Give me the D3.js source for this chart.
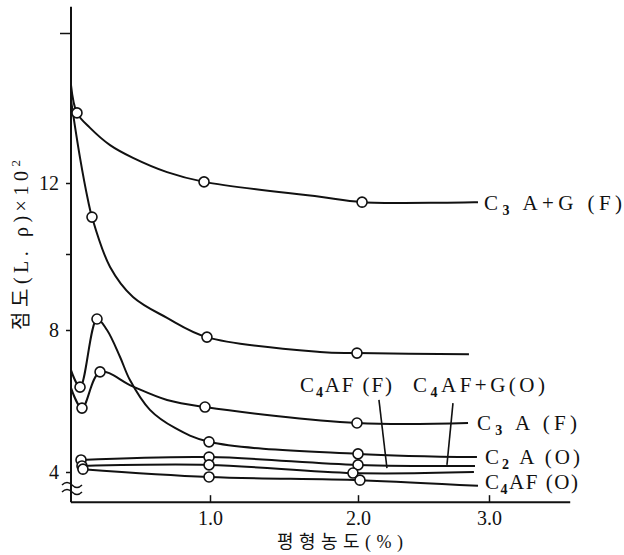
<!DOCTYPE html>
<html><head><meta charset="utf-8">
<script src="https://cdn.jsdelivr.net/npm/d3@7"></script>
<style>
html,body{margin:0;padding:0;background:#fff;}
svg{display:block;}
text{font-family:"Liberation Serif","DejaVu Serif","Noto Sans CJK KR",serif;fill:#111;}
</style></head>
<body><svg id="c" width="624" height="555"></svg>
<script>
// ---- data ----
const xTickValues = [1, 2, 3];
const yTickValues = [4, 8, 10, 12, 16];
const yTickLabels = [4, 8, 12];

// C3A+G(F)
const s1x = [0, 0.043, 0.137, 0.281, 0.446, 0.691, 0.957, 1.743, 2.031, 2.916];
const s1y = [14.61, 13.87, 13.47, 13.01, 12.67, 12.29, 12.03, 11.61, 11.46, 11.46];
const s1m = [1, 6, 8];
// unlabeled steep curve
const s2x = [0, 0.065, 0.122, 0.151, 0.281, 0.446, 0.691, 0.978, 1.743, 1.993, 2.847];
const s2y = [14.21, 12.67, 11.52, 11.04, 9.66, 8.87, 8.32, 7.80, 7.38, 7.35, 7.32];
const s2m = [3, 7, 9];
// C2A(O)
const s3x = [0, 0.065, 0.187, 0.259, 0.353, 0.424, 0.568, 0.748, 0.993, 2.0, 2.908];
const s3y = [6.87, 6.39, 8.29, 8.0, 7.24, 6.59, 5.75, 5.24, 4.85, 4.51, 4.42];
const s3m = [1, 2, 8, 9];
// C3A(F)
const s4x = [0, 0.079, 0.209, 0.439, 0.691, 0.964, 1.993, 2.840];
const s4y = [6.37, 5.80, 6.82, 6.42, 6.03, 5.83, 5.38, 5.38];
const s4m = [1, 2, 5, 6];
// C4AF+G(O)
const s5x = [0.072, 0.993, 2.0, 2.893];
const s5y = [4.34, 4.42, 4.20, 4.17];
const s5m = [0, 1, 2];
// C4AF(F)
const s6x = [0.079, 0.993, 1.966, 2.885];
const s6y = [4.17, 4.20, 3.97, 4.0];
const s6m = [0, 1, 2];
// C4AF(O)
const s7x = [0.086, 0.993, 2.015, 2.916];
const s7y = [4.08, 3.86, 3.77, 3.61];
const s7m = [0, 1, 2];

const seriesX = [s1x, s2x, s3x, s4x, s5x, s6x, s7x];
const seriesY = [s1y, s2y, s3y, s4y, s5y, s6y, s7y];
const seriesM = [s1m, s2m, s3m, s4m, s5m, s6m, s7m];

// ---- scales (the scan is slightly uneven, so piecewise linear) ----
const x = d3.scaleLinear().domain([0, 1, 2, 3]).range([71, 210, 358, 489]);
const y = d3.scaleLinear().domain([4, 8, 10, 12, 16]).range([472, 330, 254, 183, 33]);
const yTop = 16.7, yBase = 3.15, xEnd = 3.62;

const svg = d3.select("#c");

// axes
const gy = svg.append("g").attr("transform", `translate(${x(0)},0)`)
  .call(d3.axisLeft(y).tickValues(yTickValues).tickSize(5).tickPadding(7)
    .tickFormat(d => yTickLabels.includes(d) ? d : ""));
gy.select(".domain").remove();
gy.selectAll(".tick line").attr("stroke", "#111").attr("stroke-width", 1.5)
  .attr("x2", d => d === 16 ? -11 : -5);
gy.selectAll(".tick text").style("font-size", "20px").attr("fill", "#111");
svg.append("line").attr("x1", x(0)).attr("x2", x(0)).attr("y1", y(yTop)).attr("y2", y(yBase))
  .attr("stroke", "#111").attr("stroke-width", 2);

const gx = svg.append("g").attr("transform", `translate(0,${y(yBase)})`)
  .call(d3.axisBottom(x).tickValues(xTickValues).tickSizeInner(-7).tickSizeOuter(0).tickPadding(9)
    .tickFormat(d3.format(".1f")));
gx.select(".domain").remove();
gx.selectAll(".tick line").attr("stroke", "#111").attr("stroke-width", 1.5);
gx.selectAll(".tick text").style("font-size", "20px").attr("fill", "#111");
svg.append("line").attr("x1", x(0)).attr("x2", x(xEnd)).attr("y1", y(yBase)).attr("y2", y(yBase))
  .attr("stroke", "#111").attr("stroke-width", 2);

// axis break symbol
const by = y(4) + 13;
[0, 7].forEach(o => {
  svg.append("path")
    .attr("d", `M${x(0) - 9},${by + o} q5,-5 10,0 t10,0`)
    .attr("fill", "none").attr("stroke", "#111").attr("stroke-width", 1.5);
});

// curves
const line = d3.line().x(d => x(d[0])).y(d => y(d[1])).curve(d3.curveCatmullRom.alpha(0.5));
seriesX.forEach((xs, i) => {
  const pts = xs.map((v, j) => [v, seriesY[i][j]]);
  svg.append("path").attr("d", line(pts)).attr("fill", "none")
    .attr("stroke", "#111").attr("stroke-width", 2);
});
seriesX.forEach((xs, i) => {
  svg.selectAll(null).data(seriesM[i]).enter().append("circle")
    .attr("cx", j => x(xs[j])).attr("cy", j => y(seriesY[i][j])).attr("r", 5)
    .attr("fill", "#fff").attr("stroke", "#111").attr("stroke-width", 1.6);
});

// series labels
const labels = [
  {parts: [["C"], ["3", 1], [" A+G (F)"]], x: 2.962, y: 11.44, w: 138},
  {parts: [["C"], ["3", 1], [" A (F)"]], x: 2.908, y: 5.38, w: 100},
  {parts: [["C"], ["2", 1], [" A (O)"]], x: 2.969, y: 4.42, w: 95},
  {parts: [["C"], ["4", 1], ["AF (O)"]], x: 2.969, y: 3.72, w: 93},
  {parts: [["C"], ["4", 1], ["AF (F)"]], x: 1.608, y: 6.45, w: 92},
  {parts: [["C"], ["4", 1], ["AF+G(O)"]], x: 2.42, y: 6.45, w: 132}
];
labels.forEach(l => {
  const t = svg.append("text").attr("x", x(l.x)).attr("y", y(l.y) + 7)
    .style("font-size", "21px").attr("textLength", l.w).attr("lengthAdjust", "spacing")
    .attr("xml:space", "preserve");
  let shifted = false;
  l.parts.forEach(p => {
    const ts = t.append("tspan").text(p[0]);
    if (p[1]) { ts.style("font-size", "14px").style("font-weight", "bold").attr("dy", 5); shifted = true; }
    else if (shifted) { ts.attr("dy", -5); shifted = false; }
  });
});

// pointer lines
const pointers = [
  [[2.160, 6.03], [2.221, 4.11]],
  [[2.725, 5.94], [2.679, 4.20]]
];
pointers.forEach(p => {
  svg.append("line").attr("x1", x(p[0][0])).attr("y1", y(p[0][1]))
    .attr("x2", x(p[1][0])).attr("y2", y(p[1][1]))
    .attr("stroke", "#111").attr("stroke-width", 1.6);
});

// axis titles
svg.append("text").attr("x", 340).attr("y", 548).attr("text-anchor", "middle")
  .style("font-size", "18px").attr("textLength", 126).attr("lengthAdjust", "spacing")
  .text("평형농도(%)");
const yl = svg.append("text").attr("transform", "translate(28,245) rotate(-90)")
  .attr("text-anchor", "middle").style("font-size", "20px")
  .attr("textLength", 170).attr("lengthAdjust", "spacing");
yl.append("tspan").text("점도(L. ρ)×10");
yl.append("tspan").text("2").style("font-size", "13px").attr("dy", -8);
</script></body></html>
